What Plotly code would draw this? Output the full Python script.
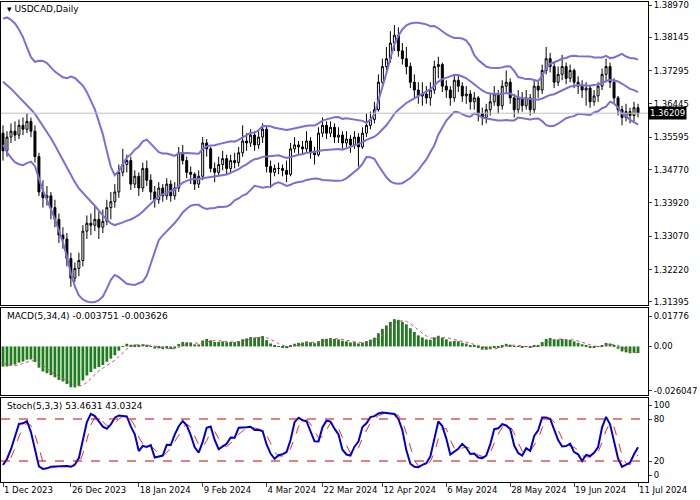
import numpy as np
import pandas as pd
import plotly.graph_objects as go
from plotly.subplots import make_subplots

# ---- data ----
pre_close = [1.3710,1.3720,1.3710,1.3740,1.3700,1.3780,1.3820,1.3840,1.3860,1.3870,
             1.3850,1.3780,1.3710,1.3720,1.3770,1.3780,1.3790,1.3800,1.3810,1.3790,1.3740,
             1.3720,1.3710,1.3700,1.3720,1.3710,1.3690,1.3660,1.3640,1.3600,1.3580,1.3570]
pre_high6 = [1.3720,1.3700,1.3675,1.3650,1.3610,1.3600]
pre_low6 = [1.3665,1.3640,1.3610,1.3585,1.3560,1.3545]

close = [1.3525,1.3560,1.3575,1.3565,1.3590,1.3580,1.3600,1.3575,1.3510,1.3420,
         1.3405,1.3410,1.3380,1.3350,1.3310,1.3300,1.3250,1.3200,1.3225,1.3245,
         1.3320,1.3340,1.3335,1.3350,1.3330,1.3345,1.3380,1.3395,1.3420,1.3470,
         1.3490,1.3500,1.3440,1.3460,1.3430,1.3480,1.3450,1.3420,1.3400,1.3430,
         1.3410,1.3440,1.3410,1.3430,1.3520,1.3500,1.3470,1.3465,1.3440,1.3460,
         1.3545,1.3530,1.3480,1.3470,1.3490,1.3505,1.3480,1.3500,1.3495,1.3520,
         1.3550,1.3545,1.3565,1.3540,1.3560,1.3580,1.3485,1.3470,1.3480,1.3480,
         1.3475,1.3465,1.3530,1.3540,1.3535,1.3530,1.3550,1.3520,1.3515,1.3570,
         1.3590,1.3570,1.3585,1.3560,1.3565,1.3545,1.3555,1.3540,1.3560,1.3535,
         1.3570,1.3590,1.3605,1.3630,1.3700,1.3740,1.3760,1.3800,1.3820,1.3780,
         1.3760,1.3740,1.3700,1.3680,1.3665,1.3670,1.3660,1.3680,1.3740,1.3745,
         1.3690,1.3680,1.3660,1.3705,1.3690,1.3665,1.3670,1.3650,1.3660,1.3620,
         1.3610,1.3630,1.3650,1.3670,1.3640,1.3690,1.3700,1.3660,1.3630,1.3660,
         1.3640,1.3660,1.3630,1.3690,1.3680,1.3730,1.3760,1.3740,1.3700,1.3720,
         1.3740,1.3710,1.3730,1.3700,1.3690,1.3680,1.3685,1.3650,1.3665,1.3690,
         1.3720,1.3740,1.3700,1.3660,1.3630,1.3610,1.3625,1.3615,1.3635,1.36209]
high = [1.3590,1.3575,1.3595,1.3600,1.3605,1.3610,1.3620,1.3610,1.3590,1.3520,
        1.3450,1.3435,1.3420,1.3400,1.3365,1.3330,1.3315,1.3265,1.3240,1.3265,
        1.3335,1.3360,1.3365,1.3385,1.3370,1.3375,1.3400,1.3420,1.3440,1.3490,
        1.3530,1.3515,1.3510,1.3475,1.3470,1.3495,1.3500,1.3465,1.3435,1.3445,
        1.3440,1.3455,1.3450,1.3445,1.3535,1.3540,1.3510,1.3485,1.3470,1.3475,
        1.3560,1.3555,1.3535,1.3495,1.3510,1.3525,1.3515,1.3515,1.3520,1.3535,
        1.3590,1.3570,1.3580,1.3575,1.3575,1.3595,1.3590,1.3500,1.3490,1.3495,
        1.3490,1.3500,1.3545,1.3560,1.3550,1.3550,1.3575,1.3560,1.3535,1.3585,
        1.3610,1.3600,1.3600,1.3595,1.3585,1.3575,1.3575,1.3565,1.3575,1.3570,
        1.3585,1.3620,1.3625,1.3650,1.3720,1.3760,1.3790,1.3830,1.3846,1.3840,
        1.3800,1.3790,1.3750,1.3720,1.3700,1.3700,1.3690,1.3700,1.3755,1.3765,
        1.3750,1.3705,1.3690,1.3720,1.3720,1.3700,1.3690,1.3680,1.3675,1.3665,
        1.3635,1.3645,1.3670,1.3690,1.3680,1.3705,1.3730,1.3710,1.3670,1.3680,
        1.3675,1.3680,1.3670,1.3705,1.3705,1.3745,1.3790,1.3775,1.3750,1.3740,
        1.3770,1.3750,1.3745,1.3735,1.3715,1.3705,1.3700,1.3690,1.3680,1.3700,
        1.3735,1.3760,1.3750,1.3710,1.3665,1.3640,1.3645,1.3635,1.3650,1.3645]
low = [1.3500,1.3510,1.3545,1.3550,1.3555,1.3565,1.3570,1.3560,1.3495,1.3410,
       1.3380,1.3385,1.3350,1.3330,1.3290,1.3275,1.3230,1.3178,1.3190,1.3205,
       1.3230,1.3300,1.3310,1.3320,1.3300,1.3315,1.3335,1.3350,1.3380,1.3405,
       1.3460,1.3470,1.3425,1.3430,1.3410,1.3420,1.3435,1.3400,1.3380,1.3390,
       1.3395,1.3400,1.3395,1.3400,1.3420,1.3490,1.3455,1.3440,1.3425,1.3430,
       1.3450,1.3510,1.3470,1.3445,1.3460,1.3475,1.3465,1.3470,1.3480,1.3485,
       1.3510,1.3525,1.3535,1.3525,1.3530,1.3545,1.3470,1.3430,1.3460,1.3465,
       1.3460,1.3445,1.3460,1.3520,1.3515,1.3515,1.3520,1.3505,1.3490,1.3510,
       1.3560,1.3555,1.3560,1.3545,1.3545,1.3530,1.3535,1.3520,1.3530,1.3485,
       1.3530,1.3560,1.3580,1.3595,1.3625,1.3690,1.3730,1.3750,1.3780,1.3765,
       1.3745,1.3720,1.3685,1.3660,1.3645,1.3640,1.3645,1.3640,1.3670,1.3710,
       1.3675,1.3660,1.3640,1.3650,1.3675,1.3650,1.3645,1.3630,1.3630,1.3600,
       1.3590,1.3595,1.3615,1.3640,1.3620,1.3630,1.3675,1.3645,1.3610,1.3620,
       1.3625,1.3630,1.3615,1.3620,1.3660,1.3670,1.3720,1.3725,1.3685,1.3690,
       1.3705,1.3695,1.3700,1.3685,1.3670,1.3660,1.3640,1.3635,1.3640,1.3650,
       1.3680,1.3700,1.3685,1.3645,1.3615,1.3590,1.3600,1.3595,1.3600,1.3610]

dates = pd.bdate_range("2023-12-01", "2024-07-11")
tick_dates = ["2023-12-01","2023-12-26","2024-01-18","2024-02-09","2024-03-04","2024-03-22",
              "2024-04-12","2024-05-06","2024-05-28","2024-06-19","2024-07-11"]
tick_text = ["1 Dec 2023","26 Dec 2023","18 Jan 2024","9 Feb 2024","4 Mar 2024","22 Mar 2024",
             "12 Apr 2024","6 May 2024","28 May 2024","19 Jun 2024","11 Jul 2024"]
price_ticks = [1.31395,1.32220,1.33070,1.33920,1.34770,1.35595,1.36445,1.37295,1.38145,1.38970]
last_price = 1.36209

# ---- indicators ----
n = len(close)
x = np.arange(n)
allc = pd.Series(pre_close + close)
P = len(pre_close)
opens = [pre_close[-1]] + close[:-1]
mid = allc.rolling(20).mean()
sd = allc.rolling(20).std(ddof=0)
up, dn = (mid + 2*sd).iloc[P:], (mid - 2*sd).iloc[P:]
mid = mid.iloc[P:]
macd = allc.ewm(span=5, adjust=False).mean() - allc.ewm(span=34, adjust=False).mean()
sig = macd.rolling(4).mean()
macd, sig = macd.iloc[P:], sig.iloc[P:]
hh = pd.Series(pre_high6 + high); ll = pd.Series(pre_low6 + low)
cc = pd.Series(pre_close[-6:] + close)
HH = hh.rolling(5).max(); LL = ll.rolling(5).min()
K = 100*(cc-LL).rolling(3).sum()/(HH-LL).rolling(3).sum()
D = K.rolling(3).mean()
K, D = K.iloc[6:], D.iloc[6:]

fig = make_subplots(rows=3, cols=1, shared_xaxes=True, vertical_spacing=0.01)
fig.add_trace(go.Candlestick(x=x, open=opens, high=high, low=low, close=close,
    increasing=dict(fillcolor="white", line=dict(color="black", width=1)),
    decreasing=dict(fillcolor="black", line=dict(color="black", width=1)),
    whiskerwidth=0, hoverinfo="skip"), 1, 1)
band = "#7b6fd6"
for s in (up, mid, dn):
    fig.add_trace(go.Scatter(x=x, y=s.values, mode="lines", line=dict(color=band, width=2)), 1, 1)
fig.add_hline(y=last_price, line=dict(color="#c0c0c0", width=1), row=1, col=1)
fig.add_trace(go.Bar(x=x, y=macd.values, marker=dict(color="#1e7d1e", line=dict(width=0)), width=0.7), 2, 1)
fig.add_trace(go.Scatter(x=x, y=sig.values, mode="lines", line=dict(color="#e0407a", width=1, dash="dot")), 2, 1)
fig.add_trace(go.Scatter(x=x, y=D.values, mode="lines", line=dict(color="#e03030", width=1, dash="dash")), 3, 1)
fig.add_trace(go.Scatter(x=x, y=K.values, mode="lines", line=dict(color="#0000cc", width=2)), 3, 1)
for lv in (20, 80):
    fig.add_hline(y=lv, line=dict(color="#cc0000", width=1, dash="dash"), row=3, col=1)

font = dict(family="DejaVu Sans", size=9, color="black")
fig.update_layout(width=700, height=500, margin=dict(l=1, r=52, t=2, b=18, autoexpand=False),
    paper_bgcolor="white", plot_bgcolor="white", showlegend=False, font=font, bargap=0.2)
ax = dict(showline=True, linecolor="black", linewidth=1, mirror=True, showgrid=False,
          zeroline=False, range=[-0.5, 161.5], rangeslider=dict(visible=False), automargin=False)
tickidx = [int(dates.get_loc(pd.Timestamp(d))) for d in tick_dates]
fig.update_xaxes(**ax)
fig.update_xaxes(tickvals=tickidx, ticktext=tick_text, ticks="outside", ticklen=4, tickangle=0,
                 ticklabelposition="outside right", tickfont=dict(size=8.5), row=3, col=1)
yax = dict(side="right", showline=True, linecolor="black", mirror=True, showgrid=False,
           zeroline=False, ticks="outside", ticklen=3, tickfont=dict(size=8.5), automargin=False,
           ticklabeloverflow="allow")
fig.update_yaxes(**yax)
fig.update_layout(
    yaxis=dict(domain=[0.369, 1], range=[1.31318, 1.39047], tickvals=price_ticks,
               ticktext=[f"{v:.5f}" for v in price_ticks]),
    yaxis2=dict(domain=[0.181, 0.3625], range=[-0.0285, 0.0225],
                tickvals=[0.01776, 0, -0.026047], ticktext=["0.01776", "0.00", "-0.026047"]),
    yaxis3=dict(domain=[0.0, 0.175], range=[-10, 110], tickvals=[0, 20, 80, 100]),
)
fig.add_annotation(xref="paper", yref="paper", x=0.006, y=1.0, xanchor="left", yanchor="top",
                   text="▾ USDCAD,Daily", showarrow=False, font=font)
fig.add_annotation(xref="paper", yref="paper", x=0.006, y=0.36, xanchor="left", yanchor="top",
                   text="MACD(5,34,4) -0.003751 -0.003626", showarrow=False, font=font)
fig.add_annotation(xref="paper", yref="paper", x=0.006, y=0.173, xanchor="left", yanchor="top",
                   text="Stoch(5,3,3) 53.4631 43.0324", showarrow=False, font=font)
fig.add_annotation(xref="paper", yref="y", x=1.0, y=last_price, xanchor="left", yanchor="middle",
                   text="1.36209", showarrow=False, bgcolor="black",
                   font=dict(family="DejaVu Sans", size=8.5, color="white"))
fig.write_html("out.html", config={"displayModeBar": False},
               post_script="document.body.style.margin='0px';")
